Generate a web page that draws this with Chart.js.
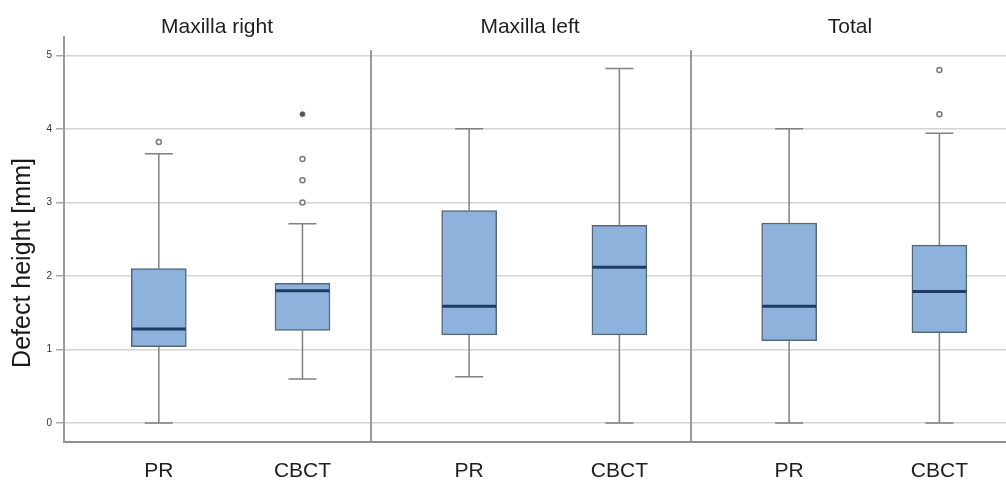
<!DOCTYPE html>
<html>
<head>
    <title>Defect height</title>
    <script src="https://cdn.jsdelivr.net/npm/chart.js"></script>
    <style>
        body { margin: 0; background: #fff; overflow: hidden; }
        #wrap { position: relative; width: 1006px; height: 484px; overflow: hidden; }
        .panel { position: absolute; top: 0; }
    </style>
</head>
<body>
<div id="wrap">
    <canvas class="panel" id="panel0" width="370" height="484" style="left:0px"></canvas>
    <canvas class="panel" id="panel1" width="320" height="484" style="left:370px"></canvas>
    <canvas class="panel" id="panel2" width="320" height="484" style="left:690px"></canvas>
</div>
<script>
    const panelTitles = ['Maxilla right', 'Maxilla left', 'Total'];
    const groups = ['PR', 'CBCT'];
    const yTicks = [0, 1, 2, 3, 4, 5];
    // one row per panel, one value per group (PR, CBCT)
    const whiskerLow = [[0, 0.6], [0.63, 0], [0, 0]];
    const q1 = [[1.04, 1.26], [1.2, 1.2], [1.12, 1.23]];
    const medians = [[1.28, 1.8], [1.59, 2.12], [1.59, 1.79]];
    const q3 = [[2.1, 1.9], [2.89, 2.69], [2.72, 2.42]];
    const whiskerHigh = [[3.66, 2.71], [4.0, 4.82], [4.0, 3.94]];
    const outliers = [[[3.82], [3.0, 3.3, 3.59]], [[], []], [[], [4.2, 4.8]]];
    const extremes = [[[], [4.2]], [[], []], [[], []]];

    const FONT = '"Liberation Sans", Arial, sans-serif';

    function boxPlugin(p) {
        return {
            id: 'boxParts',
            beforeDatasetsDraw(chart) {
                const {ctx, scales: {x, y}} = chart;
                ctx.save();
                ctx.strokeStyle = '#808080';
                ctx.lineWidth = 1.5;
                groups.forEach((g, j) => {
                    const cx = x.getPixelForValue(j + 1);
                    ctx.beginPath();
                    ctx.moveTo(cx, y.getPixelForValue(q3[p][j]));
                    ctx.lineTo(cx, y.getPixelForValue(whiskerHigh[p][j]));
                    ctx.moveTo(cx, y.getPixelForValue(q1[p][j]));
                    ctx.lineTo(cx, y.getPixelForValue(whiskerLow[p][j]));
                    [whiskerHigh[p][j], whiskerLow[p][j]].forEach(v => {
                        const py = y.getPixelForValue(v);
                        ctx.moveTo(cx - 14, py);
                        ctx.lineTo(cx + 14, py);
                    });
                    ctx.stroke();
                });
                ctx.restore();
            },
            afterDatasetsDraw(chart) {
                const {ctx, scales: {x, y}} = chart;
                ctx.save();
                ctx.strokeStyle = '#1f3d63';
                ctx.lineWidth = 3;
                groups.forEach((g, j) => {
                    const cx = x.getPixelForValue(j + 1);
                    const py = y.getPixelForValue(medians[p][j]);
                    ctx.beginPath();
                    ctx.moveTo(cx - 27, py);
                    ctx.lineTo(cx + 27, py);
                    ctx.stroke();
                });
                ctx.restore();
            }
        };
    }

    function framePlugin(p) {
        return {
            id: 'frame',
            afterDraw(chart) {
                const {ctx, chartArea} = chart;
                ctx.save();
                if (p > 0) {
                    // divider between panels
                    ctx.strokeStyle = '#9b9b9b';
                    ctx.lineWidth = 2;
                    ctx.beginPath();
                    ctx.moveTo(chartArea.left + 1, chartArea.top + 13);
                    ctx.lineTo(chartArea.left + 1, chartArea.bottom);
                    ctx.stroke();
                } else {
                    ctx.fillStyle = '#1a1a1a';
                    ctx.font = '25px ' + FONT;
                    ctx.textAlign = 'center';
                    ctx.textBaseline = 'middle';
                    ctx.translate(23, 263);
                    ctx.rotate(-Math.PI / 2);
                    ctx.fillText('Defect height [mm]', 0, 0);
                }
                ctx.restore();
            }
        };
    }

    panelTitles.forEach((title, p) => {
        const first = p === 0;
        new Chart(document.getElementById('panel' + p), {
            type: 'bar',
            data: {
                datasets: [{
                    type: 'bar',
                    data: groups.map((g, j) => ({x: j + 1, y: [q1[p][j], q3[p][j]]})),
                    backgroundColor: '#8db3dc',
                    borderColor: '#56677a',
                    borderWidth: 1.5,
                    borderSkipped: false,
                    barThickness: 55
                }, {
                    type: 'scatter',
                    data: groups.flatMap((g, j) => outliers[p][j].map(v => ({x: j + 1, y: v}))),
                    pointStyle: 'circle',
                    pointRadius: 2.5,
                    pointBorderWidth: 1.5,
                    pointBorderColor: '#7a7a7a',
                    pointBackgroundColor: '#ffffff'
                }, {
                    type: 'scatter',
                    data: groups.flatMap((g, j) => extremes[p][j].map(v => ({x: j + 1, y: v}))),
                    pointStyle: 'star',
                    pointRadius: 3,
                    pointBorderWidth: 1.5,
                    pointBorderColor: '#555555'
                }]
            },
            options: {
                responsive: false,
                animation: false,
                layout: {padding: 0, autoPadding: false},
                plugins: {
                    legend: {display: false},
                    tooltip: {enabled: false},
                    title: {
                        display: true,
                        text: title,
                        fullSize: false,
                        color: '#1e1e1e',
                        font: {family: FONT, size: 21, weight: 'normal', lineHeight: 0.9},
                        padding: {top: 18, bottom: 0}
                    }
                },
                scales: {
                    x: {
                        type: 'linear',
                        min: 0.34,
                        max: 2.47,
                        offset: false,
                        grid: {display: false},
                        border: {display: true, color: '#8f8f8f', width: 2},
                        ticks: {
                            padding: 9,
                            color: '#1e1e1e',
                            font: {family: FONT, size: 21},
                            callback: v => groups[v - 1]
                        },
                        afterBuildTicks: s => { s.ticks = groups.map((g, j) => ({value: j + 1})); },
                        afterFit: s => { s.height = 42.5; s.paddingLeft = 0; s.paddingRight = 0; }
                    },
                    y: {
                        type: 'linear',
                        min: -0.25,
                        max: 5.25,
                        grid: {
                            color: '#d3d3d3',
                            lineWidth: 1.5,
                            drawTicks: first,
                            tickLength: 8,
                            tickColor: '#a8a8a8'
                        },
                        border: {display: first, color: '#9b9b9b', width: 2},
                        ticks: {
                            display: first,
                            padding: 4,
                            color: '#333',
                            font: {family: FONT, size: 10}
                        },
                        afterBuildTicks: s => { s.ticks = yTicks.map(v => ({value: v})); },
                        afterFit: s => { s.width = first ? 64 : 0; s.paddingTop = 0; s.paddingBottom = 0; }
                    }
                }
            },
            plugins: [boxPlugin(p), framePlugin(p)]
        });
    });
</script>
</body>
</html>
